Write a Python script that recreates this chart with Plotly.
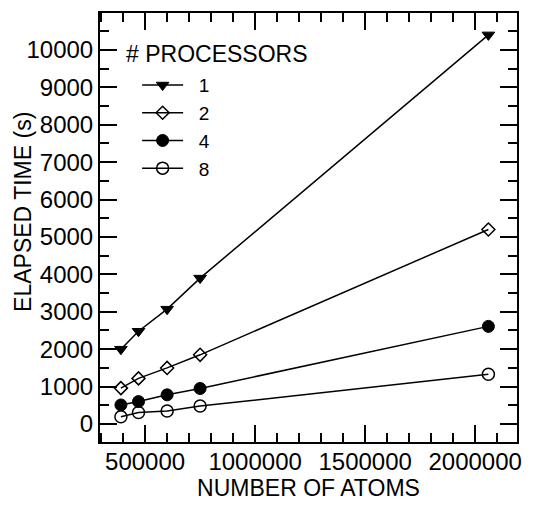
import plotly.graph_objects as go

atoms = [390000, 470000, 600000, 750000, 2060000]
t_p1 = [2000, 2480, 3070, 3900, 10400]
t_p2 = [960, 1220, 1500, 1850, 5200]
t_p4 = [510, 600, 780, 950, 2610]
t_p8 = [195, 310, 350, 480, 1330]
series_names = ["1", "2", "4", "8"]

FONT = "Liberation Sans, Arial, Helvetica, sans-serif"

styles = [
    dict(symbol="triangle-down", size=11, color="black", line=dict(color="black", width=1)),
    dict(symbol="diamond-open", size=10, color="black", line=dict(color="black", width=1.5)),
    dict(symbol="circle", size=12, color="black", line=dict(color="black", width=1)),
    dict(symbol="circle-open", size=12, color="black", line=dict(color="black", width=1.5)),
]

fig = go.Figure()
for name, ys, mk in zip(series_names, [t_p1, t_p2, t_p4, t_p8], styles):
    fig.add_trace(go.Scatter(
        x=atoms, y=ys, mode="lines+markers", name="  " + name,
        line=dict(color="black", width=1.5), marker=mk,
    ))

axis_common = dict(
    showline=True, linecolor="black", linewidth=2, mirror="ticks",
    ticks="inside", tickcolor="black", tickwidth=2, ticklen=17,
    showgrid=False, zeroline=False, tickformat="d", automargin=False,
    tickfont=dict(family=FONT, size=24, color="black"),
)

fig.update_layout(
    width=538, height=505,
    margin=dict(l=100, r=21, t=13, b=63),
    paper_bgcolor="white", plot_bgcolor="white",
    font=dict(family=FONT, color="black"),
    xaxis=dict(
        range=[295000, 2190000], dtick=500000, tick0=0, ticklabelstandoff=-3,
        minor=dict(dtick=100000, tick0=0, ticks="inside", ticklen=9, tickcolor="black", tickwidth=1.5),
        title=dict(text="NUMBER OF ATOMS", font=dict(family=FONT, size=23, color="black"), standoff=0),
        **axis_common,
    ),
    yaxis=dict(
        range=[-480, 10985], dtick=1000, tick0=0,
        minor=dict(dtick=500, tick0=0, ticks="inside", ticklen=9, tickcolor="black", tickwidth=1.5),
        **axis_common,
    ),
    showlegend=True,
    legend=dict(
        x=0.089, y=0.876, xanchor="left", yanchor="top",
        bgcolor="rgba(0,0,0,0)", borderwidth=0,
        font=dict(family=FONT, size=19, color="black"),
        itemwidth=41, tracegroupgap=0,
    ),
    annotations=[
        dict(
            text="# PROCESSORS", xref="paper", yref="paper", x=0.057, y=0.905,
            xanchor="left", yanchor="middle", showarrow=False,
            font=dict(family=FONT, size=23, color="black"),
        ),
        dict(
            text="ELAPSED TIME (s)", xref="paper", yref="paper", x=-0.185, y=0.536,
            xanchor="center", yanchor="middle", showarrow=False, textangle=-90,
            font=dict(family=FONT, size=23, color="black"),
        ),
    ],
)

fig.write_html("out.html")
